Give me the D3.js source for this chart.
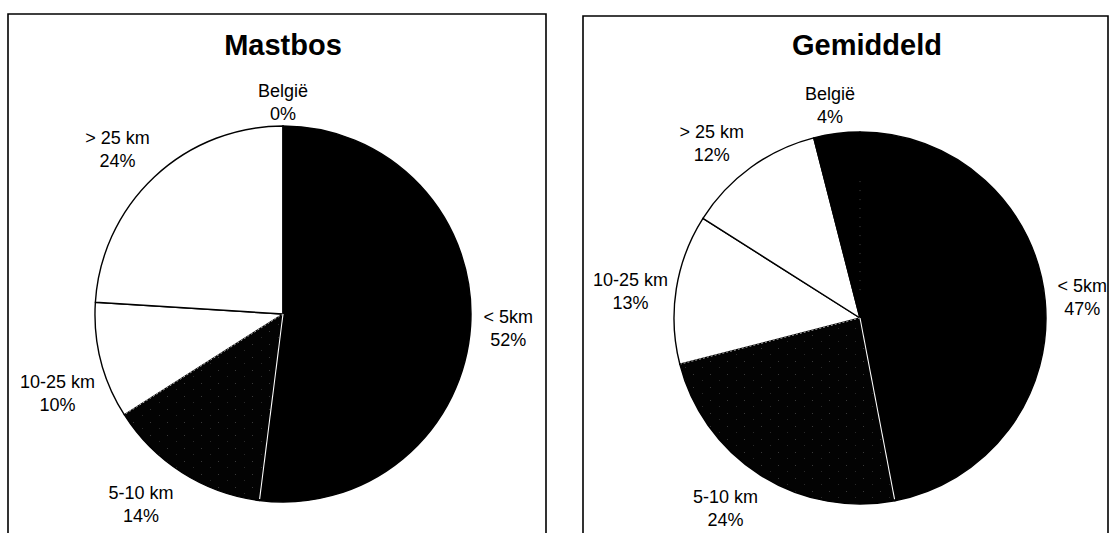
<!DOCTYPE html>
<html>
<head>
<meta charset="utf-8">
<script src="https://cdn.jsdelivr.net/npm/d3@7/dist/d3.min.js"></script>
<style>
  html, body { margin: 0; padding: 0; background: #fff; }
  svg { display: block; }
  text { font-family: "Liberation Sans", Arial, sans-serif; fill: #000; }
</style>
</head>
<body>
<svg id="chart" width="1110" height="533"></svg>
<script>
// ---- data ----
const categories = ["< 5km", "5-10 km", "10-25 km", "> 25 km", "België"];
const mastbosValues = [52, 14, 10, 24, 0];
const gemiddeldValues = [47, 24, 13, 12, 4];
const titles = ["Mastbos", "Gemiddeld"];

// ---- styling / layout (not data) ----
const fills = ["#000000", "#050505", "#ffffff", "#ffffff", "#000000"];
const panels = [
  { title: titles[0], values: mastbosValues, frame: [8, 14, 546, 540], cx: 283, cy: 314, r: 188, titleX: 283,
    nudge: [[0, 0], [-21, 0], [-7, 23], [-11, 0], [0, 14]] },
  { title: titles[1], values: gemiddeldValues, frame: [583, 16, 1108, 540], cx: 860, cy: 318, r: 186, titleX: 867,
    nudge: [[0, 1], [-15, 2], [-9, 8], [-17, 6], [-2, 9]] }
];

const svg = d3.select("#chart");

const defs = svg.append("defs");
const speck = defs.append("pattern").attr("id", "speck").attr("patternUnits", "userSpaceOnUse")
  .attr("width", 17).attr("height", 13);
speck.append("rect").attr("width", 17).attr("height", 13).attr("fill", "#030303");
speck.append("rect").attr("x", 3).attr("y", 4).attr("width", 1).attr("height", 1).attr("fill", "#3a3a3a");
speck.append("rect").attr("x", 12).attr("y", 10).attr("width", 1).attr("height", 1).attr("fill", "#2a2a2a");

const pie = d3.pie().sort(null).value(d => d).startAngle(0).endAngle(2 * Math.PI);

panels.forEach(p => {
  const [x0, y0, x1, y1] = p.frame;
  // frame (left, top, right; bottom is off-page)
  svg.append("path")
    .attr("d", `M${x0},${y1} L${x0},${y0} L${x1},${y0} L${x1},${y1}`)
    .attr("fill", "none").attr("stroke", "#000").attr("stroke-width", 1.6);

  svg.append("text")
    .attr("x", p.titleX).attr("y", 55)
    .attr("text-anchor", "middle")
    .attr("font-size", 29).attr("font-weight", "bold")
    .text(p.title);

  const g = svg.append("g").attr("transform", `translate(${p.cx},${p.cy})`);
  const arcs = pie(p.values);
  const arc = d3.arc().innerRadius(0).outerRadius(p.r);

  g.selectAll("path.slice").data(arcs).join("path")
    .attr("class", "slice")
    .attr("d", arc)
    .attr("fill", (d, i) => i === 1 ? "url(#speck)" : fills[i])
    .attr("stroke", "#000").attr("stroke-width", 1.4)
    .attr("stroke-linejoin", "round");

  // separator between "< 5km" and "5-10 km": thin white line
  const a1 = arcs[0].endAngle;
  const pt1 = d3.pointRadial(a1, p.r - 1.5);
  g.append("line").attr("x1", 0).attr("y1", 0).attr("x2", pt1[0]).attr("y2", pt1[1])
    .attr("stroke", "#fff").attr("stroke-width", 1.1);

  // speckled grey edge between "5-10 km" and "10-25 km"
  const a2 = arcs[1].endAngle;
  const pt2 = d3.pointRadial(a2, p.r - 1);
  g.append("line").attr("x1", 0).attr("y1", 0).attr("x2", pt2[0]).attr("y2", pt2[1])
    .attr("stroke", "#aaa").attr("stroke-width", 1).attr("stroke-dasharray", "2,2");

  // faint dotted line between "België" and "< 5km" (both black)
  if (p.values[4] > 0) {
    const a0 = arcs[0].startAngle;
    const pt0 = d3.pointRadial(a0, p.r * 0.75);
    const ptS = d3.pointRadial(a0, p.r * 0.15);
    g.append("line").attr("x1", ptS[0]).attr("y1", ptS[1]).attr("x2", pt0[0]).attr("y2", pt0[1])
      .attr("stroke", "#444").attr("stroke-width", 1).attr("stroke-dasharray", "1,8");
  }

  // labels
  const labelArc = d3.arc().innerRadius(p.r * 1.2).outerRadius(p.r * 1.2);
  arcs.forEach((d, i) => {
    const c = labelArc.centroid(d);
    const lx = p.cx + c[0] + p.nudge[i][0];
    const ly = p.cy + c[1] + p.nudge[i][1];
    const t = svg.append("text")
      .attr("text-anchor", "middle")
      .attr("font-size", 18);
    t.append("tspan").attr("x", lx).attr("y", ly - 11.5).attr("dominant-baseline", "central").text(categories[i]);
    t.append("tspan").attr("x", lx).attr("y", ly + 11.5).attr("dominant-baseline", "central").text(p.values[i] + "%");
  });
});
</script>
</body>
</html>
